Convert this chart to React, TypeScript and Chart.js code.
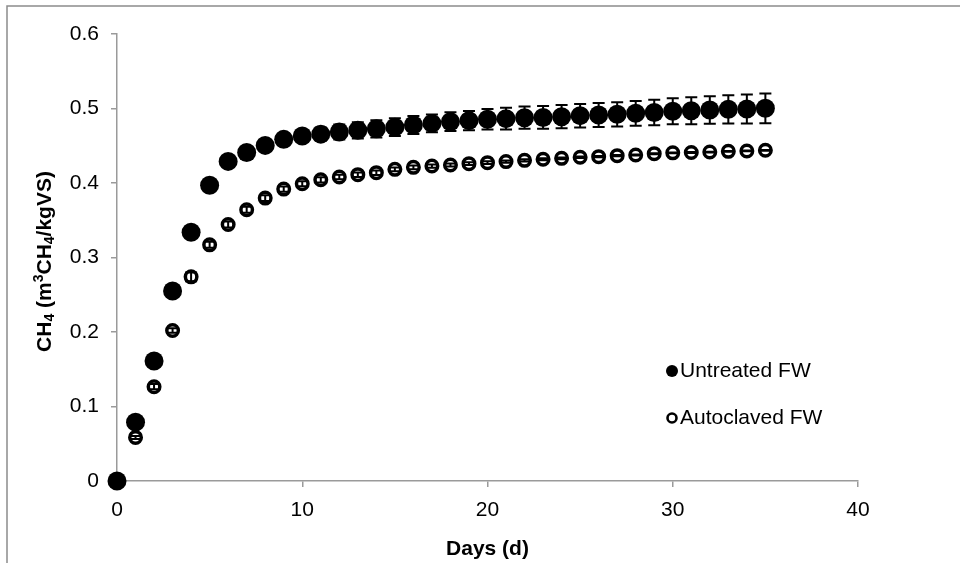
import { useEffect, useRef } from "react";
import { Chart, registerables } from "chart.js";

Chart.register(...registerables);

const FONT = "'Liberation Sans', Arial, Helvetica, sans-serif";

// ---- data ----
const days = [0, 1, 2, 3, 4, 5, 6, 7, 8, 9, 10, 11, 12, 13, 14, 15, 16, 17, 18, 19, 20, 21, 22, 23, 24, 25, 26, 27, 28, 29, 30, 31, 32, 33, 34, 35];

const untreated = [0, 0.079, 0.161, 0.255, 0.334, 0.397, 0.429, 0.441, 0.4505, 0.4586, 0.463, 0.4656, 0.4685, 0.4707, 0.4727, 0.475, 0.4779, 0.48, 0.4823, 0.4837, 0.4855, 0.4864, 0.4877, 0.488, 0.489, 0.4904, 0.4913, 0.4922, 0.4935, 0.4946, 0.4962, 0.497, 0.498, 0.4989, 0.4993, 0.5003];
const untreatedErr = [0, 0.003, 0.004, 0.005, 0.005, 0.006, 0.006, 0.007, 0.007, 0.008, 0.008, 0.009, 0.01, 0.011, 0.0115, 0.012, 0.012, 0.012, 0.0125, 0.013, 0.0138, 0.0145, 0.015, 0.0153, 0.0156, 0.0158, 0.016, 0.0163, 0.0166, 0.017, 0.0175, 0.0182, 0.0186, 0.019, 0.0195, 0.02];

const autoclaved = [0, 0.0585, 0.1266, 0.202, 0.274, 0.317, 0.3443, 0.364, 0.3797, 0.3918, 0.399, 0.4043, 0.408, 0.4112, 0.4139, 0.4183, 0.421, 0.4228, 0.4242, 0.426, 0.4273, 0.4287, 0.4304, 0.4318, 0.4331, 0.4345, 0.4354, 0.4367, 0.4376, 0.4394, 0.4405, 0.441, 0.4416, 0.4425, 0.443, 0.4439];
const autoclavedErr = [0, 0.002, 0.0035, 0.003, 0.006, 0.004, 0.004, 0.004, 0.004, 0.0035, 0.0035, 0.0035, 0.003, 0.003, 0.003, 0.0025, 0.0025, 0.0022, 0.002, 0.002, 0.0018, 0.0016, 0.0015, 0.0013, 0.0012, 0.001, 0.0008, 0.0008, 0.0007, 0.0007, 0.0006, 0.0006, 0.0005, 0.0005, 0.0005, 0.0005];

const seriesNames = ["Untreated FW", "Autoclaved FW"];
const xTicks = [0, 10, 20, 30, 40];
const yTicks = [0, 0.1, 0.2, 0.3, 0.4, 0.5, 0.6];
const xTitle = "Days (d)";
// y title pieces: [text, kind] kind: n normal, b subscript, p superscript
const yTitleParts: [string, string][] = [
  ["CH", "n"], ["4", "b"], [" (m", "n"], ["3", "p"], ["CH", "n"], ["4", "b"], ["/kgVS)", "n"],
];

const seriesValues = [untreated, autoclaved];
const seriesErrors = [untreatedErr, autoclavedErr];

const decorPlugin = {
  id: "decor",
  beforeDraw(chart: any) {
    const ctx = chart.ctx;
    ctx.save();
    ctx.fillStyle = "#ffffff";
    ctx.fillRect(0, 0, chart.width, chart.height);
    ctx.restore();
  },
  afterDatasetsDraw(chart: any) {
    const ctx = chart.ctx;
    const ys = chart.scales.y;
    ctx.save();
    ctx.strokeStyle = "#000000";
    ctx.lineWidth = 2;
    for (let k = 0; k < seriesValues.length; k++) {
      const meta = chart.getDatasetMeta(k);
      meta.data.forEach((pt: any, j: number) => {
        const v = seriesValues[k][j];
        const e = seriesErrors[k][j];
        if (!e) return;
        const x = pt.x;
        const yt = ys.getPixelForValue(v + e);
        const yb = ys.getPixelForValue(v - e);
        ctx.beginPath();
        ctx.moveTo(x, yt);
        ctx.lineTo(x, yb);
        ctx.moveTo(x - 6, yt);
        ctx.lineTo(x + 6, yt);
        ctx.moveTo(x - 6, yb);
        ctx.lineTo(x + 6, yb);
        ctx.stroke();
      });
    }
    ctx.restore();
  },
  afterDraw(chart: any) {
    const ctx = chart.ctx;
    const area = chart.chartArea;
    ctx.save();
    // outer frame (left & top visible)
    ctx.strokeStyle = "#8c8c8c";
    ctx.lineWidth = 1.5;
    ctx.beginPath();
    ctx.moveTo(7, chart.height + 2);
    ctx.lineTo(7, 6);
    ctx.lineTo(chart.width + 2, 6);
    ctx.stroke();

    // x title
    ctx.fillStyle = "#000000";
    ctx.font = `bold 21px ${FONT}`;
    ctx.textAlign = "center";
    ctx.textBaseline = "middle";
    ctx.fillText(xTitle, (area.left + area.right) / 2, 549);

    // y title with sub/superscripts
    ctx.save();
    ctx.translate(45, (area.top + area.bottom) / 2 + 4);
    ctx.rotate(-Math.PI / 2);
    ctx.textAlign = "left";
    ctx.textBaseline = "middle";
    const big = `bold 21px ${FONT}`;
    const small = `bold 14px ${FONT}`;
    let total = 0;
    for (const [t, k] of yTitleParts) {
      ctx.font = k === "n" ? big : small;
      total += ctx.measureText(t).width;
    }
    let cx = -total / 2;
    for (const [t, k] of yTitleParts) {
      ctx.font = k === "n" ? big : small;
      const dy = k === "b" ? 5 : k === "p" ? -6 : 0;
      ctx.fillText(t, cx, dy);
      cx += ctx.measureText(t).width;
    }
    ctx.restore();

    // legend
    const legendX = 672;
    const legendY = [371, 418];
    ctx.font = `21px ${FONT}`;
    ctx.textAlign = "left";
    ctx.textBaseline = "middle";
    // untreated
    ctx.fillStyle = "#000";
    ctx.beginPath();
    ctx.arc(legendX, legendY[0], 6, 0, Math.PI * 2);
    ctx.fill();
    ctx.fillText(seriesNames[0], legendX + 8, legendY[0]);
    // autoclaved
    ctx.beginPath();
    ctx.arc(legendX, legendY[1], 4.5, 0, Math.PI * 2);
    ctx.fillStyle = "#fff";
    ctx.fill();
    ctx.lineWidth = 2.6;
    ctx.strokeStyle = "#000";
    ctx.stroke();
    ctx.fillStyle = "#000";
    ctx.fillText(seriesNames[1], legendX + 8, legendY[1]);
    ctx.restore();
  },
};

export default function App() {
  const ref = useRef<HTMLCanvasElement | null>(null);
  useEffect(() => {
    if (!ref.current) return;
    const fmt = (v: number) => String(Number(v.toFixed(1)));
    const chart = new Chart(ref.current, {
      type: "scatter",
      data: {
        datasets: [
          {
            label: seriesNames[0],
            data: days.map((d, i) => ({ x: d, y: untreated[i] })),
            pointRadius: 9.5,
            pointBackgroundColor: "#000000",
            pointBorderWidth: 0,
            pointBorderColor: "#000000",
            showLine: false,
            clip: false as any,
          },
          {
            label: seriesNames[1],
            data: days.map((d, i) => ({ x: d, y: autoclaved[i] })),
            pointRadius: 5.75,
            pointBackgroundColor: "#ffffff",
            pointBorderWidth: 3.5,
            pointBorderColor: "#000000",
            showLine: false,
            clip: false as any,
          },
        ],
      },
      options: {
        animation: false,
        responsive: false,
        devicePixelRatio: 1,
        events: [],
        layout: { padding: { left: 0, top: 34, right: 102, bottom: 0 }, autoPadding: false } as any,
        plugins: {
          legend: { display: false },
          tooltip: { enabled: false },
          title: { display: false },
        },
        scales: {
          x: {
            type: "linear",
            min: 0,
            max: 40,
            afterBuildTicks: (s: any) => {
              s.ticks = xTicks.map((v) => ({ value: v }));
            },
            afterFit: (s: any) => {
              s.height = 82;
            },
            ticks: {
              font: { family: FONT, size: 21 },
              color: "#000000",
              padding: 11,
              maxRotation: 0,
              callback: (v: any) => fmt(Number(v)),
            },
            grid: { drawOnChartArea: false, drawTicks: true, tickLength: 6, color: "#9a9a9a", lineWidth: 1.5 },
            border: { display: true, color: "#9a9a9a", width: 1.5 },
          },
          y: {
            type: "linear",
            min: 0,
            max: 0.6,
            afterBuildTicks: (s: any) => {
              s.ticks = yTicks.map((v) => ({ value: v }));
            },
            afterFit: (s: any) => {
              s.width = 117;
            },
            ticks: {
              font: { family: FONT, size: 21 },
              color: "#000000",
              padding: 12,
              callback: (v: any) => fmt(Number(v)),
            },
            grid: { drawOnChartArea: false, drawTicks: true, tickLength: 6, color: "#9a9a9a", lineWidth: 1.5 },
            border: { display: true, color: "#9a9a9a", width: 1.5 },
          },
        },
      },
      plugins: [decorPlugin],
    });
    return () => chart.destroy();
  }, []);
  return (
    <div style={{ position: "absolute", left: 0, top: 0, width: 960, height: 563 }}>
      <canvas ref={ref} width={960} height={563} style={{ display: "block" }} />
    </div>
  );
}
